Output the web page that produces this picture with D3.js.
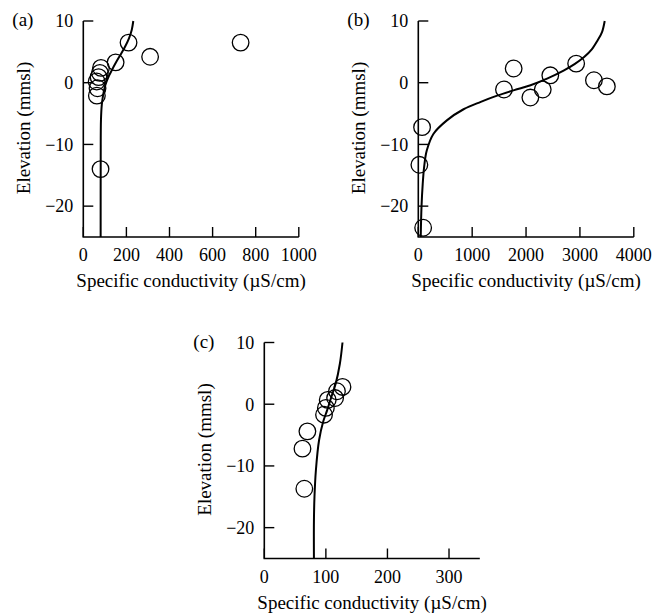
<!DOCTYPE html>
<html lang="en">
<head>
<meta charset="UTF-8">
<title>Specific conductivity vs elevation</title>
<script src="https://d3js.org/d3.v7.min.js"></script>
<style>
    body { margin: 0; background: #fff; }
    svg text { font-family: "Liberation Serif", "Times New Roman", serif; fill: #000; }
    .tick-label { font-size: 18px; }
    .axis-title { font-size: 19px; }
    .panel-label { font-size: 19px; }
</style>
</head>
<body>
<div id="chart"></div>
<script>
    // elevation ticks shared by all panels
    const yTicks = [10, 0, -10, -20];

    // panel (a)
    const xTicksA = [0, 200, 400, 600, 800, 1000];
    const pointsA = [[730, 6.5], [310, 4.2], [210, 6.5], [150, 3.3], [80, -14],
        [82, 2.4], [77, 1.6], [71, 0.9], [62, 0.2], [66, -0.9], [63, -2.1]];
    const curveA = [[80.5, -25], [80.8, -12], [82, -6], [86, -3.5], [93, -1.8], [102, -0.4],
        [115, 0.8], [132, 2], [152, 3.3], [172, 4.5], [193, 5.8], [212, 7.2], [225, 8.6], [232, 10]];

    // panel (b)
    const xTicksB = [0, 1000, 2000, 3000, 4000];
    const pointsB = [[70, -7.2], [20, -13.3], [90, -23.5], [1590, -1.1], [1770, 2.3], [2080, -2.4],
        [2310, -1.1], [2450, 1.2], [2930, 3.1], [3260, 0.4], [3500, -0.6]];
    const curveB = [[45, -25], [60, -20], [82, -16.4], [110, -13.5], [157, -11], [280, -8.3],
        [530, -6.1], [840, -4.3], [1160, -3.1], [1463, -2.1], [1780, -1.2], [2084, -0.4],
        [2400, 0.7], [2705, 2.0], [2900, 3.0], [3078, 4.15], [3220, 5.4], [3328, 6.85], [3410, 8.2], [3460, 10]];

    // panel (c)
    const xTicksC = [0, 100, 200, 300];
    const pointsC = [[127, 2.8], [118, 2.1], [115, 1.0], [103, 0.7], [100, -0.6], [97, -1.7],
        [70, -4.4], [62, -7.2], [65, -13.7]];
    const curveC = [[80.6, -25], [80.6, -19], [81.5, -15], [83.8, -10.7], [89, -5.8], [95.7, -2.8],
        [102, -1], [109, 1.2], [116, 3.35], [122.8, 6.6], [127, 10]];

    const svg = d3.select("#chart").append("svg")
        .attr("width", 665).attr("height", 616);

    function drawPanel(p) {
        const g = svg.append("g").attr("transform", `translate(${p.left},${p.top})`);
        const w = 215.5, h = 216;

        const x = d3.scaleLinear().domain([0, p.xMax]).range([0, w]);
        const y = d3.scaleLinear().domain([-25, 10]).range([h, 0]);

        // axis lines
        g.append("path")
            .attr("d", `M${x(0)},${y(10)}V${h}H${w}`)
            .attr("fill", "none").attr("stroke", "#000").attr("stroke-width", 1.6);

        // inward ticks
        g.selectAll(".ytick").data(yTicks).enter().append("line")
            .attr("x1", 0).attr("x2", 10)
            .attr("y1", d => y(d)).attr("y2", d => y(d))
            .attr("stroke", "#000").attr("stroke-width", 1.4);
        g.selectAll(".xtick").data(p.xTicks).enter().append("line")
            .attr("x1", d => x(d)).attr("x2", d => x(d))
            .attr("y1", h).attr("y2", h - 10)
            .attr("stroke", "#000").attr("stroke-width", 1.4);

        g.selectAll(".ylab").data(yTicks).enter().append("text")
            .attr("class", "tick-label")
            .attr("x", -10).attr("y", d => y(d)).attr("dy", "0.35em")
            .attr("text-anchor", "end")
            .text(d => d3.format("d")(d));
        g.selectAll(".xlab").data(p.xTicks).enter().append("text")
            .attr("class", "tick-label")
            .attr("x", d => x(d)).attr("y", h + 24)
            .attr("text-anchor", "middle")
            .text(d => d);

        g.append("text").attr("class", "axis-title")
            .attr("x", w / 2).attr("y", h + 50)
            .attr("text-anchor", "middle")
            .text("Specific conductivity (\u00b5S/cm)");
        g.append("text").attr("class", "axis-title")
            .attr("transform", `translate(-53,${h / 2 - 1}) rotate(-90)`)
            .attr("text-anchor", "middle")
            .text("Elevation (mmsl)");
        g.append("text").attr("class", "panel-label")
            .attr("x", -71).attr("y", 5)
            .text(p.label);

        const line = d3.line()
            .x(d => x(d[0])).y(d => y(d[1]))
            .curve(d3.curveCatmullRom);
        g.append("path").datum(p.curve)
            .attr("d", line)
            .attr("fill", "none").attr("stroke", "#000").attr("stroke-width", 2);

        g.selectAll(".pt").data(p.points).enter().append("circle")
            .attr("cx", d => x(d[0])).attr("cy", d => y(d[1]))
            .attr("r", 8.3)
            .attr("fill", "none").attr("stroke", "#000").attr("stroke-width", 1.3);
    }

    drawPanel({ label: "(a)", left: 83.3, top: 21, xMax: 1000, xTicks: xTicksA, points: pointsA, curve: curveA });
    drawPanel({ label: "(b)", left: 418.3, top: 21, xMax: 4000, xTicks: xTicksB, points: pointsB, curve: curveB });
    drawPanel({ label: "(c)", left: 264.3, top: 342.5, xMax: 350, xTicks: xTicksC, points: pointsC, curve: curveC });
</script>
</body>
</html>
